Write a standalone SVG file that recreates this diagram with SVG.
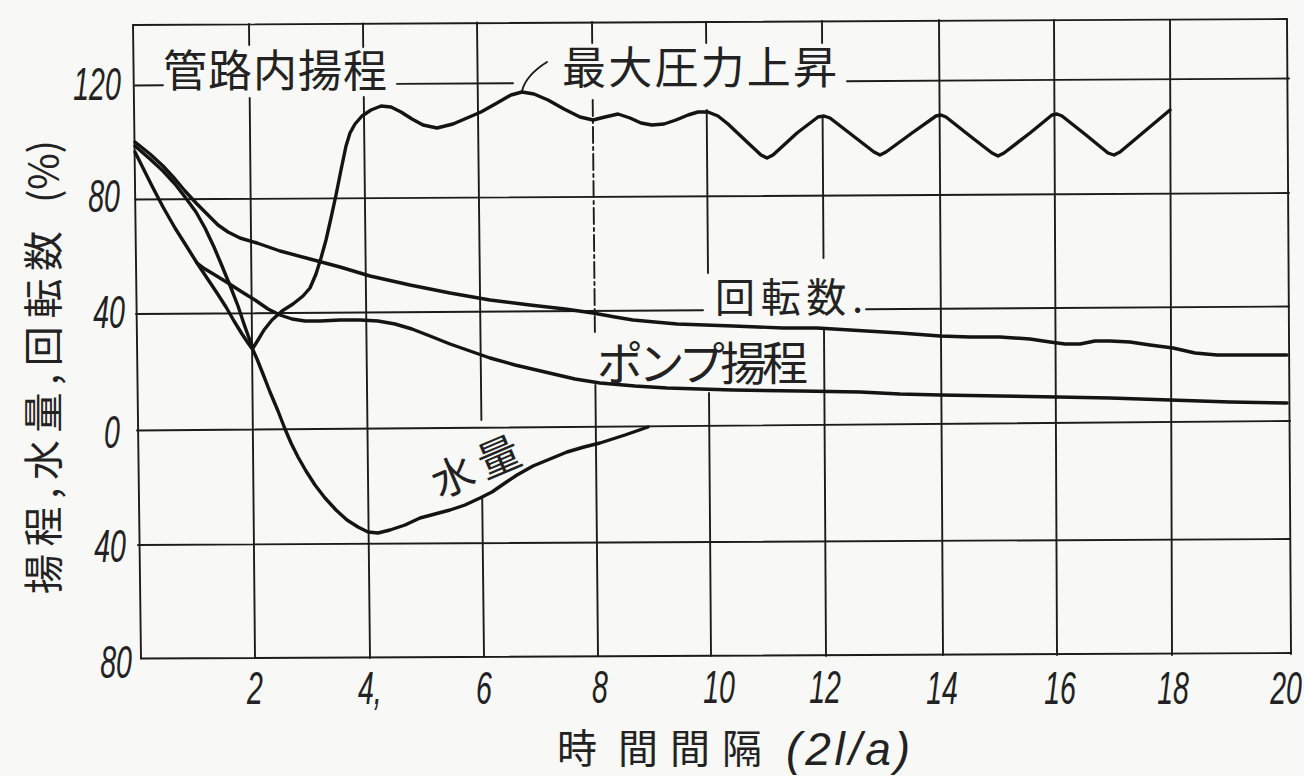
<svg xmlns="http://www.w3.org/2000/svg" width="1304" height="776" viewBox="0 0 1304 776">
<style>
.g{stroke:#1c1c1c;stroke-width:1.9;fill:none;stroke-linecap:round}
.c{stroke:#141414;stroke-width:3.4;fill:none;stroke-linejoin:round;stroke-linecap:round}
.n{font-family:"Liberation Sans",Arial,sans-serif;font-style:italic;font-size:46px;fill:#222}
.j{font-family:"Noto Sans CJK JP","Noto Sans CJK SC",sans-serif;fill:#222}
</style>
<rect width="1304" height="776" fill="#f8f8f6"/>
<g id="grid">
<line class="g" x1="133" y1="25" x2="1287" y2="19"/>
<line class="g" x1="135" y1="85.5" x2="163" y2="85.3"/>
<line class="g" x1="397" y1="83.9" x2="513" y2="83.2"/>
<line class="g" x1="847" y1="81.2" x2="1289" y2="78.5"/>
<line class="g" x1="135" y1="199.5" x2="1289" y2="193"/>
<line class="g" x1="136" y1="314" x2="703" y2="310.3"/>
<line class="g" x1="866" y1="309.2" x2="1289" y2="306.5"/>
<line class="g" x1="137" y1="430.5" x2="1290" y2="421"/>
<line class="g" x1="138" y1="545" x2="1290" y2="539"/>
<line class="g" x1="141" y1="658.5" x2="1291" y2="653"/>
<line class="g" x1="133" y1="25" x2="141" y2="658.5"/>
<line class="g" x1="249" y1="24" x2="249.2" y2="45"/>
<line class="g" x1="249.7" y1="98" x2="255" y2="658"/>
<line class="g" x1="363" y1="23.5" x2="363.2" y2="47"/>
<line class="g" x1="363.8" y1="97" x2="370" y2="658"/>
<line class="g" x1="477" y1="22.5" x2="481.4" y2="420"/>
<line class="g" x1="482.2" y1="497" x2="484" y2="657"/>
<line class="g" x1="592" y1="22" x2="592.2" y2="43"/>
<line class="g" x1="592.7" y1="100" x2="594.9" y2="332" stroke-dasharray="16 4 3 4"/>
<line class="g" x1="595.4" y1="385" x2="598" y2="656"/>
<line class="g" x1="706" y1="22" x2="706.2" y2="43"/>
<line class="g" x1="706.7" y1="110" x2="708" y2="273"/>
<line class="g" x1="709" y1="393" x2="711" y2="656"/>
<line class="g" x1="822" y1="21" x2="822.1" y2="43"/>
<line class="g" x1="822.6" y1="117" x2="823.5" y2="258"/>
<line class="g" x1="824" y1="330" x2="826" y2="656"/>
<line class="g" x1="939" y1="20" x2="943" y2="655"/>
<line class="g" x1="1054" y1="20" x2="1057" y2="655"/>
<line class="g" x1="1170" y1="20" x2="1172" y2="655"/>
<line class="g" x1="1287" y1="19" x2="1291" y2="654"/>
</g>
<g id="tick-labels">
<text class="n" text-anchor="middle" transform="translate(97,100) scale(0.62,1)">120</text>
<text class="n" text-anchor="middle" transform="translate(104,212) scale(0.62,1)">80</text>
<text class="n" text-anchor="middle" transform="translate(109,328) scale(0.62,1)">40</text>
<text class="n" text-anchor="middle" transform="translate(112,448) scale(0.62,1)">0</text>
<text class="n" text-anchor="middle" transform="translate(110,562) scale(0.62,1)">40</text>
<text class="n" text-anchor="middle" transform="translate(116,678) scale(0.62,1)">80</text>
<text class="n" text-anchor="middle" transform="translate(255,704) scale(0.62,1)">2</text>
<text class="n" transform="translate(358,704) scale(0.62,1)">4,</text>
<text class="n" text-anchor="middle" transform="translate(484,704) scale(0.62,1)">6</text>
<text class="n" text-anchor="middle" transform="translate(600,703) scale(0.62,1)">8</text>
<text class="n" text-anchor="middle" transform="translate(719,703) scale(0.62,1)">10</text>
<text class="n" text-anchor="middle" transform="translate(825,703) scale(0.62,1)">12</text>
<text class="n" text-anchor="middle" transform="translate(942,704) scale(0.62,1)">14</text>
<text class="n" text-anchor="middle" transform="translate(1060,704) scale(0.62,1)">16</text>
<text class="n" text-anchor="middle" transform="translate(1173,704) scale(0.62,1)">18</text>
<text class="n" text-anchor="middle" transform="translate(1286,704) scale(0.62,1)">20</text>
</g>
<g id="axis-titles">
<text class="j" font-size="40" textLength="363" lengthAdjust="spacing" transform="translate(58,594) rotate(-90)">揚程,水量,回転数</text>
<text class="j" font-size="40" textLength="63" lengthAdjust="spacing" transform="translate(58,203) rotate(-90)">(%)</text>
<text class="j" font-size="40" x="557" y="763">時</text>
<text class="j" font-size="40" x="618" y="763" textLength="144">間間隔</text>
<text class="n" font-size="42" x="786" y="765" textLength="124" lengthAdjust="spacing">(2l/a)</text>
</g>
<g id="curves">
<polyline id="pipe-head" class="c" points="135,146 150,159 163,171 175,184 185,197 196,212 205,228 214,247 222,266 231,288 238,306 244,324 249,338 253,348 258,340 264,330 272,320 282,311 293,304 303,296 310,288 316,274 321,258 326,240 331,218 336,195 341,170 346,146 350,133 355,124 362,116 371,110 381,106 391,107 401,112 412,119 423,125 437,128 453,124 467,118 481,112 497,103 511,95 522,92 534,94 548,100 564,109 580,117 593,120 605,117 618,114 630,118 641,123 652,125 664,124 676,120 688,115 698,112 708,112 718,116 728,124 746,141 761,155 767,158 773,155 797,133 818,117 824,116 830,118 852,135 874,152 880,155 886,152 912,133 936,116 941,115 946,117 970,136 992,153 998,156 1004,153 1030,133 1052,115 1057,114 1062,116 1086,135 1108,153 1114,155 1120,152 1145,131 1170,110"/>
<polyline id="pump-head" class="c" points="135,152 143,168 152,186 163,207 175,228 187,247 197,263 205,269 215,275 228,283 242,292 255,300 268,309 280,315 292,319 305,321 320,321 340,320 360,320 378,321 395,324 412,329 430,336 450,344 470,351 490,358 515,365 545,372 575,379 600,383 635,386 667,388 700,389 733,390 800,391 860,392 900,394 940,395 1000,396 1057,397 1110,398 1170,400 1230,402 1287,403"/>
<polyline id="flow" class="c" points="197,263 207,278 217,293 226,307 234,321 242,334 248,343 253,350 257,359 263,374 270,392 278,411 285,429 291,443 298,457 306,471 315,485 325,498 336,510 347,520 358,527 368,532 378,533 390,530 405,525 420,518 435,514 450,510 465,505 480,498 492,492 505,483 517,475 533,466 550,459 567,452 584,447 600,443 625,435 648,427"/>
<polyline id="speed" class="c" points="135,142 150,154 163,166 175,179 185,191 197,204 208,215 218,225 228,232 240,238 257,243 280,251 310,259 340,267 370,276 410,285 450,293 490,300 530,305 565,309 593,313 615,317 633,320 655,322 677,324 705,325 733,326 783,328 817,328 850,330 900,333 940,336 970,337 1000,337 1030,339 1050,342 1065,344 1080,344 1095,341 1110,341 1130,342 1150,345 1173,348 1195,353 1217,355 1250,355 1287,355"/>
<path id="leader" class="g" d="M522,91 C524,83 531,72 547,62"/>
</g>
<g id="label-pipe-head"><text class="j" font-size="44" x="163" y="87" textLength="224">管路内揚程</text></g>
<g id="label-max-rise"><text class="j" font-size="44" x="562" y="84" textLength="275">最大圧力上昇</text></g>
<g id="label-speed"><text class="j" font-size="40" x="715" y="312" textLength="148">回転数.</text></g>
<g id="label-pump-head"><text class="j" font-size="46" x="597" y="380" textLength="211">ポンプ揚程</text></g>
<g id="label-flow"><text class="j" font-size="42" text-anchor="middle" textLength="92" transform="translate(476,467) rotate(-23)" y="15">水量</text></g>
</svg>
